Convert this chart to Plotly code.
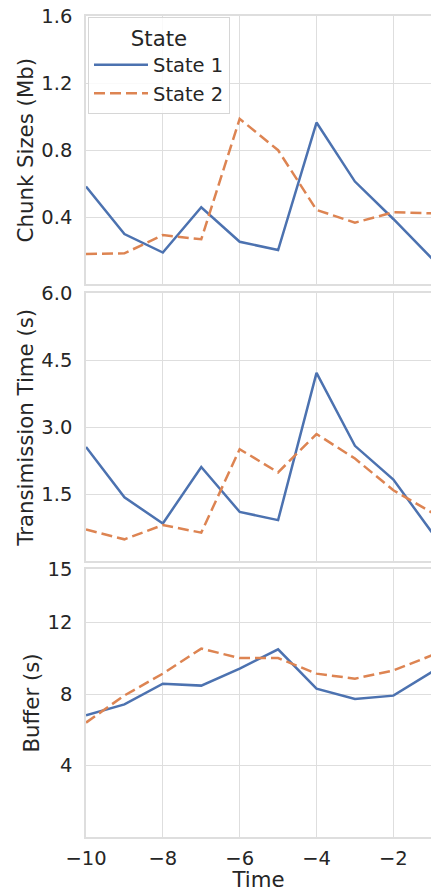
import plotly.graph_objects as go
from plotly.subplots import make_subplots

time = [-10, -9, -8, -7, -6, -5, -4, -3, -2, -1]

chunk_s1 = [0.583, 0.30, 0.19, 0.46, 0.254, 0.205, 0.965, 0.613, 0.39, 0.155]
chunk_s2 = [0.181, 0.185, 0.294, 0.269, 0.987, 0.80, 0.444, 0.368, 0.43, 0.424]

trans_s1 = [2.56, 1.43, 0.845, 2.11, 1.105, 0.92, 4.22, 2.585, 1.83, 0.65]
trans_s2 = [0.71, 0.49, 0.81, 0.64, 2.51, 1.99, 2.85, 2.30, 1.59, 1.09]

buf_s1 = [6.81, 7.42, 8.58, 8.47, 9.42, 10.5, 8.30, 7.72, 7.91, 9.23]
buf_s2 = [6.40, 7.92, 9.14, 10.54, 10.01, 10.01, 9.14, 8.86, 9.32, 10.16]

states = ["State 1", "State 2"]
colors = ["#4c72b0", "#dd8452"]
dashes = ["solid", "11px,5px"]

ylabels = ["Chunk Sizes (Mb)", "Transimission Time (s)", "Buffer (s)"]
yranges = [[0, 1.6], [0, 6.0], [0, 15]]
yticks = [[0.4, 0.8, 1.2, 1.6], [1.5, 3.0, 4.5, 6.0], [4, 8, 12, 15]]
ytext = [["0.4", "0.8", "1.2", "1.6"], ["1.5", "3.0", "4.5", "6.0"], ["4", "8", "12", "15"]]
xticks = [-10, -8, -6, -4, -2]

FONT = "DejaVu Sans"
TXT = "#262626"
GRID = "#dedede"
TICK = 19.5
LABEL = 21.3

fig = make_subplots(rows=3, cols=1, shared_xaxes=True, vertical_spacing=0.01)

series = [(chunk_s1, chunk_s2), (trans_s1, trans_s2), (buf_s1, buf_s2)]
for r, (s1, s2) in enumerate(series, start=1):
    for i, vals in enumerate([s1, s2]):
        fig.add_trace(go.Scatter(
            x=time, y=vals, mode="lines", name=states[i],
            legendgroup=states[i], showlegend=(r == 1),
            line=dict(color=colors[i], width=2.5, dash=dashes[i]),
        ), row=r, col=1)

W, H = 431, 892
ml = 86
mt = 16
mb = H - 836.7
mr = 0
ph = H - mt - mb
pw = W - ml - mr

def py(page_y):
    return (H - page_y - mb) / ph

domains = [[py(284.3), 1.0], [py(561.0), py(293.3)], [0.0, py(568.7)]]
px_per_unit = 38.42
x_hi = -10 + pw / px_per_unit

for r in range(1, 4):
    ya = "yaxis" if r == 1 else f"yaxis{r}"
    xa = "xaxis" if r == 1 else f"xaxis{r}"
    fig.layout[ya].update(
        domain=domains[r - 1], range=yranges[r - 1],
        tickvals=yticks[r - 1], ticktext=ytext[r - 1],
        showgrid=True, gridcolor=GRID, gridwidth=1.3,
        showline=True, linecolor=GRID, linewidth=1.5, mirror=True,
        zeroline=False, ticks="", ticklabelstandoff=8, automargin=False,
        tickfont=dict(family=FONT, size=TICK, color=TXT),
        title=dict(text=ylabels[r - 1], font=dict(family=FONT, size=LABEL, color=TXT), standoff=2),
    )
    fig.layout[xa].update(
        range=[-10, x_hi], tickvals=xticks,
        showgrid=True, gridcolor=GRID, gridwidth=1.3,
        showline=True, linecolor=GRID, linewidth=1.5, mirror=True,
        zeroline=False, ticks="", ticklabelstandoff=3, automargin=False,
        showticklabels=(r == 3),
        tickfont=dict(family=FONT, size=TICK, color=TXT),
    )

fig.layout.xaxis3.title = dict(text="Time", font=dict(family=FONT, size=LABEL, color=TXT), standoff=5)

fig.update_layout(
    width=W, height=H,
    margin=dict(l=ml, r=mr, t=mt, b=mb, autoexpand=False),
    paper_bgcolor="white", plot_bgcolor="white",
    font=dict(family=FONT, size=TICK, color=TXT),
    showlegend=True,
    legend=dict(
        x=2 / pw, y=py(17), xanchor="left", yanchor="top",
        bgcolor="rgba(255,255,255,0.85)", bordercolor="#d6d6d6", borderwidth=1,
        title=dict(text="State", side="top center", font=dict(family=FONT, size=LABEL, color=TXT)),
        font=dict(family=FONT, size=TICK, color=TXT),
        itemwidth=54, tracegroupgap=0,
    ),
)

fig.write_html(
    "out.html",
    config={"displayModeBar": False},
    post_script="document.body.style.margin='0px';document.body.style.overflow='hidden';",
)
